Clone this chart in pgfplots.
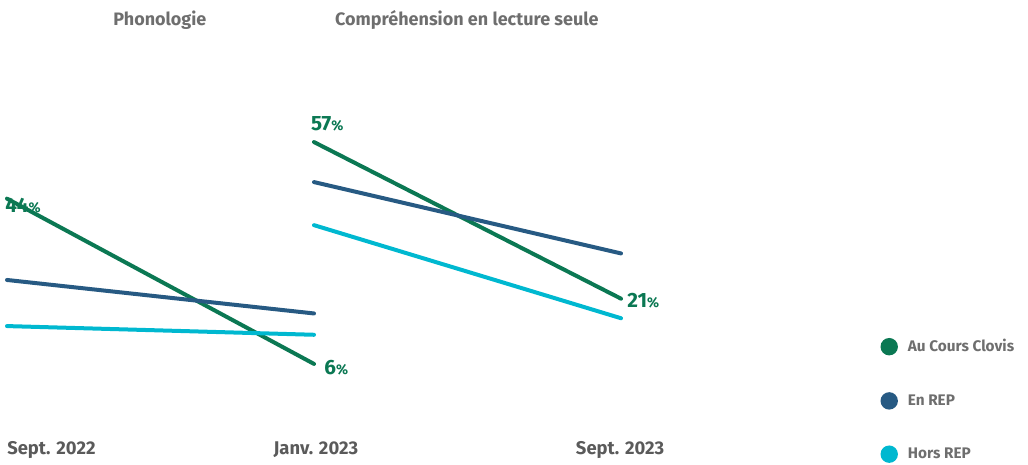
\documentclass[border=0pt]{standalone}
\usepackage{fontspec}
\setmainfont{Fira Sans}
\usepackage{pgfplots}
\pgfplotsset{compat=1.18}

\definecolor{cgreen}{HTML}{0B7853}
\definecolor{cblue}{HTML}{275A83}
\definecolor{ccyan}{HTML}{00B8D0}
\definecolor{ctitle}{HTML}{6E6E6E}
\definecolor{ctick}{HTML}{5A5A5A}

\newcommand{\pct}[1]{{\bfseries\fontsize{15.5}{16}\selectfont #1\fontsize{10.5}{11}\selectfont\%}}

\begin{document}
\begin{tikzpicture}
\begin{axis}[
  x=230.25pt, y=3.2625pt,
  xmin=-0.0228, xmax=3.3257,
  ymin=-16.55, ymax=89.66,
  hide axis,
  clip=false,
  every axis plot/.append style={line width=3pt, line cap=round},
  legend style={draw=none, fill=none,
    at={(axis cs:2.838,12.6)}, anchor=north west,
    row sep=28.5pt, font=\fontsize{11.5}{12}\selectfont\bfseries\color{ctitle},
    nodes={inner sep=1pt},
    /tikz/every odd column/.append style={column sep=8pt}},
  legend cell align=left,
]
% Phonologie: Sept. 2022 -> Janv. 2023
\addplot[cgreen, forget plot] coordinates {(0,44) (1,6)};
\addplot[cblue, forget plot] coordinates {(0,25.3) (1,17.6)};
\addplot[ccyan, forget plot] coordinates {(0,14.7) (1,12.7)};
% Comprehension: Janv. 2023 -> Sept. 2023
\addplot[cgreen, forget plot] coordinates {(1,57) (2,21)};
\addplot[cblue, forget plot] coordinates {(1,47.8) (2,31.4)};
\addplot[ccyan, forget plot] coordinates {(1,37.9) (2,16.5)};

\addlegendimage{only marks, mark=*, mark size=5pt, cgreen}
\addlegendentry{Au Cours Clovis}
\addlegendimage{only marks, mark=*, mark size=5pt, cblue}
\addlegendentry{En REP}
\addlegendimage{only marks, mark=*, mark size=5pt, ccyan}
\addlegendentry{Hors REP}

% value labels
\node[anchor=west, text=cgreen, inner sep=0pt] at (axis cs:-0.0065,42.5) {\pct{44}};
\node[anchor=west, text=cgreen, inner sep=0pt] at (axis cs:1.033,5.1) {\pct{6}};
\node[anchor=west, text=cgreen, inner sep=0pt] at (axis cs:0.990,61.1) {\pct{57}};
\node[anchor=west, text=cgreen, inner sep=0pt] at (axis cs:2.02,20.5) {\pct{21}};

% panel titles
\node[text=ctitle, font=\fontsize{13.5}{14}\selectfont\bfseries] at (axis cs:0.498,85.06) {Phonologie};
\node[text=ctitle, font=\fontsize{13.5}{14}\selectfont\bfseries] at (axis cs:1.498,85.06) {Compréhension en lecture seule};

% period labels
\node[text=ctick, font=\fontsize{13.8}{14}\selectfont\bfseries, anchor=west, inner sep=0pt] at (axis cs:0,-13.8) {Sept. 2022};
\node[text=ctick, font=\fontsize{13.8}{14}\selectfont\bfseries] at (axis cs:1.006,-13.8) {Janv. 2023};
\node[text=ctick, font=\fontsize{13.8}{14}\selectfont\bfseries] at (axis cs:1.997,-13.8) {Sept. 2023};

\path[use as bounding box] (rel axis cs:0,0) rectangle (rel axis cs:1,1);
\end{axis}
\end{tikzpicture}
\end{document}
